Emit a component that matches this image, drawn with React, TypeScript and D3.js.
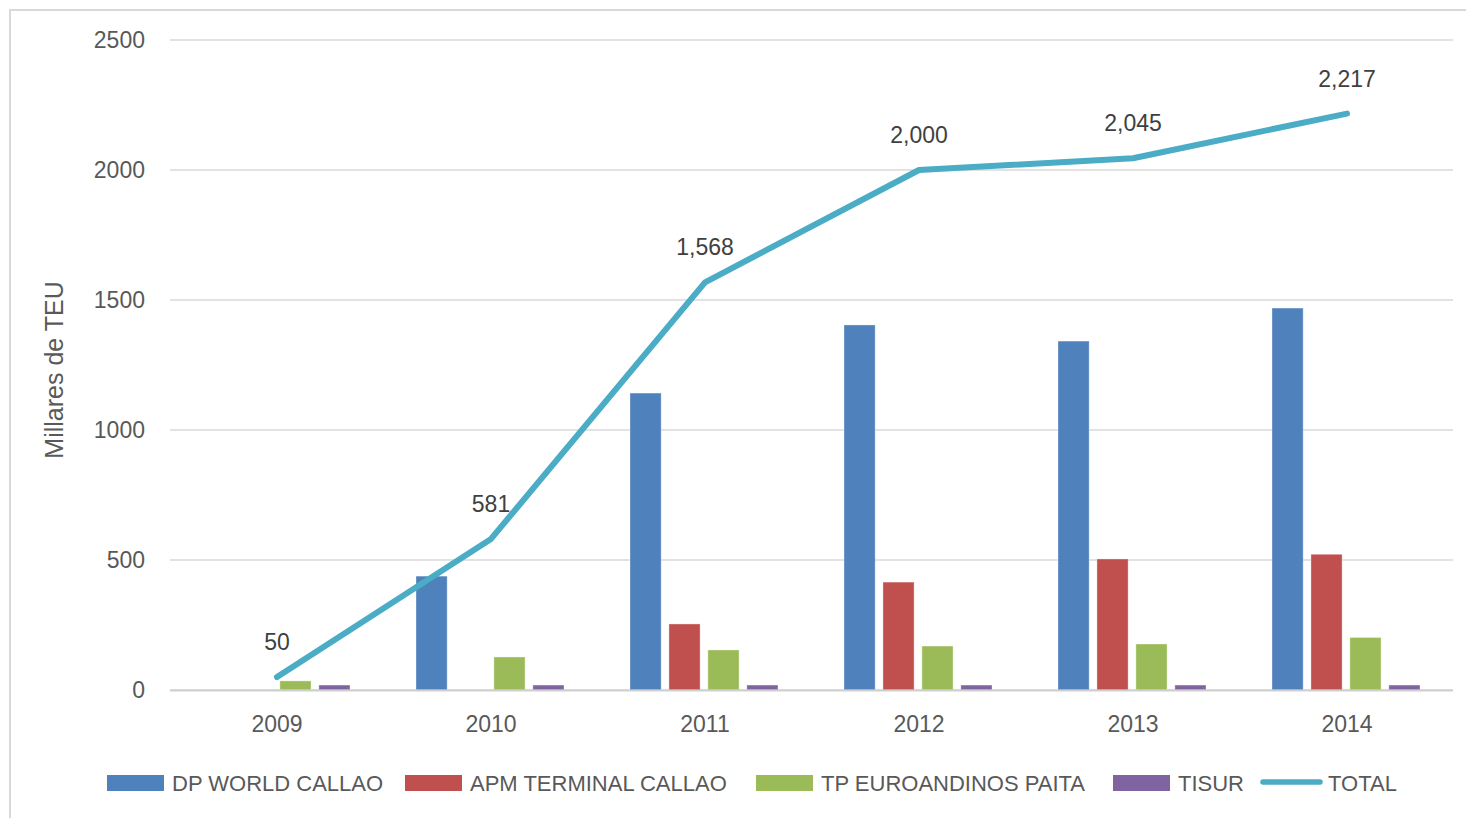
import React, { useEffect, useRef } from "react";
import * as d3 from "d3";

const years = ["2009", "2010", "2011", "2012", "2013", "2014"];
const seriesNames = ["DP WORLD CALLAO", "APM TERMINAL CALLAO", "TP EUROANDINOS PAITA", "TISUR"];
const dpWorld = [0, 438, 1142, 1404, 1342, 1469];
const apmTerminal = [0, 0, 254, 415, 504, 522];
const tpEuroandinos = [35, 127, 154, 169, 177, 202];
const tisur = [19, 19, 19, 19, 19, 19];
const total = [50, 581, 1568, 2000, 2045, 2217];
const totalName = "TOTAL";
const yTicks = [0, 500, 1000, 1500, 2000, 2500];
const barColors = ["#4F81BD", "#C0504D", "#9BBB59", "#8064A2"];
const lineColor = "#4BACC6";

export default function App() {
  const ref = useRef<SVGSVGElement | null>(null);

  useEffect(() => {
    const svg = d3.select(ref.current);
    svg.selectAll("*").remove();
    const font = "'Liberation Sans', Arial, sans-serif";
    const textColor = "#595959";

    svg.append("rect")
      .attr("x", 10).attr("y", 10).attr("width", 1480).attr("height", 830)
      .attr("fill", "#fff").attr("stroke", "#d9d9d9").attr("stroke-width", 2);

    const x = d3.scaleBand<string>().domain(years).range([170, 1454]).padding(0);
    const y = d3.scaleLinear().domain([0, 2500]).range([690, 40]);
    const inner = d3.scaleBand<string>().domain(seriesNames).range([32, 180]).paddingInner(0.2).paddingOuter(0);

    // gridlines
    svg.append("g").selectAll("line").data(yTicks).join("line")
      .attr("x1", 170).attr("x2", 1453)
      .attr("y1", (d) => y(d)).attr("y2", (d) => y(d))
      .attr("stroke", "#d9d9d9").attr("stroke-width", 1.5);

    // y tick labels
    svg.append("g").selectAll("text").data(yTicks).join("text")
      .attr("x", 145).attr("y", (d) => y(d)).attr("dy", "0.35em")
      .attr("text-anchor", "end").attr("font-family", font).attr("font-size", 23)
      .attr("fill", textColor).text((d) => String(d));

    // y axis title
    svg.append("text")
      .attr("transform", `translate(63,${y(1250) + 5}) rotate(-90)`)
      .attr("text-anchor", "middle").attr("font-family", font).attr("font-size", 25)
      .attr("fill", textColor).text("Millares de TEU");

    // bars
    const seriesValues = [dpWorld, apmTerminal, tpEuroandinos, tisur];
    seriesValues.forEach((vals, si) => {
      svg.append("g").selectAll("rect").data(vals.map((v, i) => ({ v, year: years[i] }))).join("rect")
        .attr("x", (d) => (x(d.year) as number) + (inner(seriesNames[si]) as number))
        .attr("width", inner.bandwidth())
        .attr("y", (d) => y(d.v))
        .attr("height", (d) => y(0) - y(d.v))
        .attr("fill", barColors[si])
        .attr("stroke", "rgba(255,255,255,0.35)").attr("stroke-width", 1);
    });

    // axis line
    svg.append("line").attr("x1", 170).attr("x2", 1453).attr("y1", y(0) + 0.5).attr("y2", y(0) + 0.5)
      .attr("stroke", "#d0d0d0").attr("stroke-width", 2);

    // x labels
    svg.append("g").selectAll("text").data(years).join("text")
      .attr("x", (d) => (x(d) as number) + x.bandwidth() / 2).attr("y", 732)
      .attr("text-anchor", "middle").attr("font-family", font).attr("font-size", 23)
      .attr("fill", textColor).text((d) => d);

    // total line
    const line = d3.line<number>()
      .x((_, i) => (x(years[i]) as number) + x.bandwidth() / 2)
      .y((d) => y(d));
    svg.append("path").attr("d", line(total) as string)
      .attr("fill", "none").attr("stroke", lineColor).attr("stroke-width", 6)
      .attr("stroke-linejoin", "round").attr("stroke-linecap", "round");

    // data labels
    svg.append("g").selectAll("text").data(total).join("text")
      .attr("x", (_, i) => (x(years[i]) as number) + x.bandwidth() / 2)
      .attr("y", (d) => y(d) - 27)
      .attr("text-anchor", "middle").attr("font-family", font).attr("font-size", 23)
      .attr("fill", "#404040").text((d) => d3.format(",")(d));

    // legend
    const legendX = [107, 405, 756, 1113, 1261];
    const legendItems = [...seriesNames, totalName];
    const lg = svg.append("g");
    legendItems.forEach((name, i) => {
      const lx = legendX[i];
      if (i < 4) {
        lg.append("rect").attr("x", lx).attr("y", 775).attr("width", 57).attr("height", 16)
          .attr("fill", barColors[i]);
      } else {
        lg.append("line").attr("x1", lx + 2).attr("x2", lx + 59).attr("y1", 782).attr("y2", 782)
          .attr("stroke", lineColor).attr("stroke-width", 5.5).attr("stroke-linecap", "round");
      }
      lg.append("text").attr("x", lx + (i < 4 ? 65 : 67)).attr("y", 783).attr("dy", "0.35em")
        .attr("font-family", font).attr("font-size", 22).attr("fill", textColor).text(name);
    });
  }, []);

  return (
    <svg ref={ref} width={1466} height={818}
      style={{ position: "absolute", left: 0, top: 0, background: "#fff" }} />
  );
}
